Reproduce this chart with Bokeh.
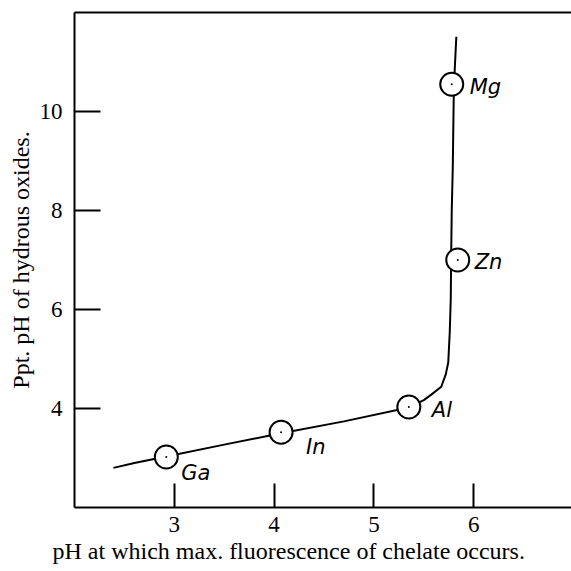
from bokeh.plotting import figure
from bokeh.models import Range1d, FixedTicker, LinearAxis, Title, ColumnDataSource
from bokeh.core.properties import value
from bokeh.embed import file_html
from bokeh.resources import INLINE

# Data
metals = ["Ga", "In", "Al", "Zn", "Mg"]
fluor_ph = [2.92, 4.07, 5.35, 5.84, 5.78]
hydrox_ph = [3.02, 3.52, 4.03, 7.0, 10.55]

curve_x = [2.39, 2.6, 2.92, 3.5, 4.07, 4.7, 5.35, 5.5, 5.575, 5.675, 5.72, 5.745, 5.76, 5.77, 5.775, 5.78, 5.79, 5.80, 5.81, 5.826]
curve_y = [2.80, 2.90, 3.03, 3.27, 3.50, 3.74, 4.02, 4.17, 4.28, 4.44, 4.69, 4.93, 5.54, 6.2, 7.19, 8.0, 8.83, 10.31, 10.85, 11.51]

x_ticks = [3, 4, 5, 6]
y_ticks = [4, 6, 8, 10]

x_title = "pH at which max. fluorescence of chelate occurs."
y_title = "Ppt. pH of hydrous oxides."

# label offsets (screen px, y down) for handwritten element names
lab_dx = [15, 25, 23, 17, 18]
lab_dy = [16, 15, 3, 2, 3]

p = figure(width=571, height=571, output_backend="svg", toolbar_location=None,
           x_range=Range1d(2.0, 6.98), y_range=Range1d(2.0, 12.0),
           min_border_left=74, min_border_right=0, min_border_top=12, min_border_bottom=64,
           background_fill_color="white", border_fill_color="white")
p.outline_line_color = None
p.grid.visible = False

serif = "Liberation Serif"
for ax, ticks in ((p.xaxis[0], x_ticks), (p.yaxis[0], y_ticks)):
    ax.ticker = FixedTicker(ticks=ticks)
    ax.axis_line_width = 2
    ax.axis_line_color = "black"
    ax.major_tick_line_width = 2
    ax.major_tick_line_color = "black"
    ax.major_tick_out = 0
    ax.minor_tick_line_color = None
    ax.major_label_text_font = serif
    ax.major_label_text_font_size = "23px"
    ax.major_label_text_color = "black"
p.xaxis[0].major_tick_in = 24
p.yaxis[0].major_tick_in = 26
p.xaxis[0].major_label_standoff = 9
p.yaxis[0].major_label_standoff = 12

top = LinearAxis(ticker=FixedTicker(ticks=[]), axis_line_width=2, axis_line_color="black",
                 major_tick_in=0, major_tick_out=0, minor_tick_line_color=None,
                 major_label_text_font_size="0px")
p.add_layout(top, "above")

p.line(curve_x, curve_y, line_width=2, line_color="black")

src = ColumnDataSource(dict(x=fluor_ph, y=hydrox_ph, name=metals, dx=lab_dx, dy=lab_dy))
p.scatter("x", "y", source=src, marker="circle", size=23, fill_color="white",
          line_color="black", line_width=2)
p.scatter("x", "y", source=src, marker="circle", size=2, fill_color="black", line_color=None)
p.text("x", "y", text="name", source=src, x_offset="dx", y_offset="dy",
       text_font=value("DejaVu Sans"), text_font_style="italic", text_font_size="21px",
       text_baseline="middle", text_align="left", text_color="black")

p.add_layout(Title(text=x_title, align="left", offset=-22, standoff=2,
                   text_font=serif, text_font_size="24px", text_font_style="normal",
                   text_color="black"), "below")
p.add_layout(Title(text=y_title, align="center", standoff=6,
                   text_font=serif, text_font_size="24px", text_font_style="normal",
                   text_color="black"), "left")

open("out.html", "w").write(file_html(p, INLINE))
